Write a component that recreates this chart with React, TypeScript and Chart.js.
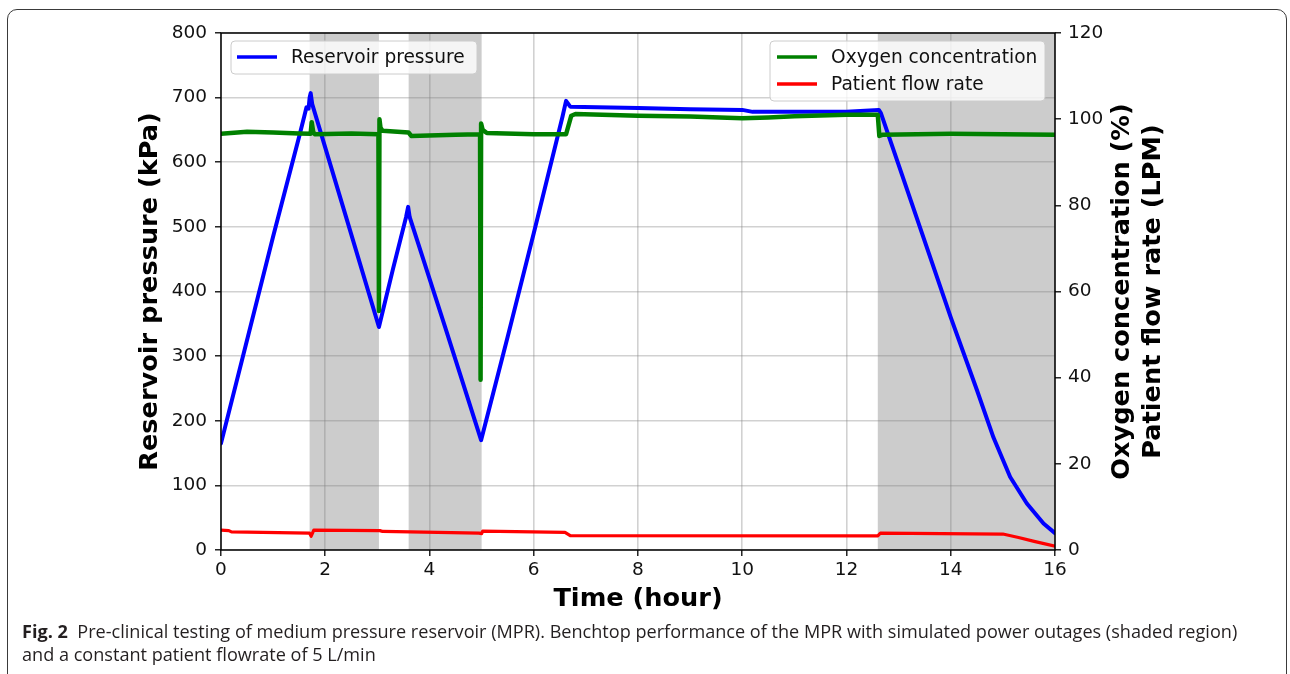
import React, { useEffect, useRef } from "react";
import { Chart, registerables } from "chart.js";

Chart.register(...registerables);

// ---------- data ----------
const pressureTime = [0, 0.5, 1.0, 1.5, 1.6, 1.64, 1.68, 1.7, 1.72, 1.75, 2.4, 3.03, 3.3, 3.55, 3.59, 3.62, 4.3, 4.99, 5.5, 6.0, 6.55, 6.62, 6.7, 8, 9, 10, 10.2, 11, 12, 12.62, 12.66, 13.0, 13.5, 14.0, 14.5, 14.82, 15.14, 15.46, 15.78, 16];
const pressureValue = [165, 325, 485, 640, 672, 685, 683, 700, 707, 690, 515, 345, 435, 515, 531, 515, 345, 170, 330, 490, 670, 695, 686, 684, 682, 681, 678, 678, 678, 681, 676, 596, 478, 360, 248, 174, 113, 72, 41, 26];

const oxygenTime = [0, 0.5, 1.0, 1.5, 1.72, 1.74, 1.77, 1.8, 2.5, 3.02, 3.03, 3.04, 3.06, 3.1, 3.6, 3.65, 4.5, 4.97, 4.98, 4.99, 5.02, 5.1, 6.0, 6.62, 6.72, 6.8, 8, 9, 10, 10.5, 11, 12, 12.6, 12.63, 12.7, 14, 16];
const oxygenValue = [96.6, 97.1, 96.9, 96.7, 96.6, 99.3, 97.0, 96.5, 96.7, 96.5, 55.5, 100, 98, 97.3, 96.9, 96.1, 96.4, 96.5, 39.5, 99, 97.5, 96.8, 96.5, 96.5, 100.8, 101.2, 100.8, 100.6, 100.2, 100.4, 100.7, 101, 101, 96.1, 96.4, 96.6, 96.4];

const flowTime = [0, 0.15, 0.2, 1.7, 1.73, 1.78, 3.05, 3.1, 4.95, 5.0, 5.02, 6.6, 6.7, 12.6, 12.65, 15.0, 15.3, 15.6, 16];
const flowValue = [4.6, 4.5, 4.2, 3.9, 3.2, 4.6, 4.5, 4.3, 3.9, 3.8, 4.4, 4.1, 3.35, 3.3, 3.9, 3.7, 2.9, 2.0, 0.9];

const shadeStart = [1.7, 3.6, 12.6];
const shadeEnd = [3.03, 5.0, 16];

const xMin = 0, xMax = 16, xStep = 2;
const leftMin = 0, leftMax = 800, leftStep = 100;
const rightMin = 0, rightMax = 120, rightStep = 20;

const xTitle = "Time (hour)";
const leftTitle = "Reservoir pressure (kPa)";
const rightTitle = ["Oxygen concentration (%)", "Patient flow rate (LPM)"];
const seriesLabels = ["Reservoir pressure", "Oxygen concentration", "Patient flow rate"];
const seriesColors = ["#0000ff", "#008000", "#ff0000"];

const toPoints = (t: number[], v: number[]) => t.map((x, i) => ({ x, y: v[i] }));

const FONT = "'DejaVu Sans', sans-serif";

const decorPlugin = {
  id: "decor",
  beforeDraw(chart: any) {
    const { ctx, chartArea: a, scales } = chart;
    ctx.save();
    ctx.fillStyle = "#cccccc";
    shadeStart.forEach((s, i) => {
      const x1 = scales.x.getPixelForValue(s);
      const x2 = scales.x.getPixelForValue(shadeEnd[i]);
      ctx.fillRect(x1, a.top, x2 - x1, a.bottom - a.top);
    });
    ctx.restore();
  },
  afterDraw(chart: any) {
    const { ctx, chartArea: a } = chart;
    ctx.save();
    // spines
    ctx.strokeStyle = "#000";
    ctx.lineWidth = 1.5;
    ctx.strokeRect(a.left, a.top, a.right - a.left, a.bottom - a.top);

    // legends
    const drawBox = (x: number, y: number, w: number, h: number) => {
      ctx.beginPath();
      ctx.roundRect(x, y, w, h, 4);
      ctx.fillStyle = "rgba(255,255,255,0.8)";
      ctx.fill();
      ctx.strokeStyle = "#cccccc";
      ctx.lineWidth = 1;
      ctx.stroke();
    };
    const drawEntry = (x: number, y: number, idx: number) => {
      ctx.strokeStyle = seriesColors[idx];
      ctx.lineWidth = 3.5;
      ctx.beginPath();
      ctx.moveTo(x, y);
      ctx.lineTo(x + 40, y);
      ctx.stroke();
      ctx.fillStyle = "#111";
      ctx.font = `18.6px ${FONT}`;
      ctx.textAlign = "left";
      ctx.textBaseline = "middle";
      ctx.fillText(seriesLabels[idx], x + 54, y + 1);
    };
    drawBox(a.left + 10, a.top + 8, 246, 33);
    drawEntry(a.left + 16, a.top + 24, 0);
    const rx = a.right - 285;
    drawBox(rx, a.top + 8, 275, 60);
    drawEntry(rx + 7, a.top + 24, 1);
    drawEntry(rx + 7, a.top + 51, 2);

    // titles
    ctx.fillStyle = "#000";
    ctx.font = `bold 25.6px ${FONT}`;
    ctx.textAlign = "center";
    ctx.textBaseline = "middle";
    const cy = (a.top + a.bottom) / 2;
    ctx.fillText(xTitle, (a.left + a.right) / 2, a.bottom + 49);
    ctx.save();
    ctx.translate(a.left - 71, cy);
    ctx.rotate(-Math.PI / 2);
    ctx.fillText(leftTitle, 0, 0);
    ctx.restore();
    rightTitle.forEach((t, i) => {
      ctx.save();
      ctx.translate(a.right + 67 + i * 31, cy);
      ctx.rotate(-Math.PI / 2);
      ctx.fillText(t, 0, 0);
      ctx.restore();
    });
    ctx.restore();
  },
};

export default function App() {
  const ref = useRef<HTMLCanvasElement | null>(null);

  useEffect(() => {
    if (!ref.current) return;
    const tickFont = { family: FONT, size: 18.5 };
    const grid = {
      color: "rgba(128,128,128,0.36)",
      lineWidth: 1.6,
      tickColor: "#000",
      tickWidth: 1.3,
      tickLength: 6,
    };
    const chart = new Chart(ref.current, {
      type: "line",
      data: {
        datasets: [
          {
            label: seriesLabels[0],
            data: toPoints(pressureTime, pressureValue),
            borderColor: seriesColors[0],
            borderWidth: 4,
            yAxisID: "y",
            order: 2,
          },
          {
            label: seriesLabels[1],
            data: toPoints(oxygenTime, oxygenValue),
            borderColor: seriesColors[1],
            borderWidth: 4.5,
            yAxisID: "y1",
            order: 1,
          },
          {
            label: seriesLabels[2],
            data: toPoints(flowTime, flowValue),
            borderColor: seriesColors[2],
            borderWidth: 3.2,
            yAxisID: "y1",
            order: 1,
          },
        ],
      },
      options: {
        animation: false,
        responsive: false,
        maintainAspectRatio: false,
        elements: { point: { radius: 0 }, line: { tension: 0, borderJoinStyle: "round", borderCapStyle: "round" } },
        layout: { padding: { top: 33, left: 0, right: 0, bottom: 0 } },
        plugins: { legend: { display: false }, tooltip: { enabled: false } },
        scales: {
          x: {
            type: "linear",
            min: xMin,
            max: xMax,
            ticks: { stepSize: xStep, font: tickFont, color: "#111", padding: 3, maxRotation: 0 },
            grid: { ...grid },
            border: { display: false },
            afterFit: (s: any) => { s.height = 124; },
          },
          y: {
            type: "linear",
            position: "left",
            min: leftMin,
            max: leftMax,
            ticks: { stepSize: leftStep, font: tickFont, color: "#111", padding: 8 },
            grid: { ...grid },
            border: { display: false },
            afterFit: (s: any) => { s.width = 221; },
          },
          y1: {
            type: "linear",
            position: "right",
            min: rightMin,
            max: rightMax,
            ticks: { stepSize: rightStep, font: tickFont, color: "#111", padding: 7 },
            grid: { ...grid, drawOnChartArea: false },
            border: { display: false },
            afterFit: (s: any) => { s.width = 235; },
          },
        },
      } as any,
      plugins: [decorPlugin],
    });
    return () => chart.destroy();
  }, []);

  return (
    <div style={{ position: "fixed", left: 0, top: 0, width: 1290, height: 674, overflow: "hidden", background: "#fff" }}>
      <div
        style={{
          position: "absolute",
          left: 7,
          top: 9,
          width: 1280,
          height: 720,
          border: "1px solid #3a3a3a",
          borderRadius: 10,
          boxSizing: "border-box",
        }}
      />
      <canvas ref={ref} width={1290} height={674} style={{ position: "absolute", left: 0, top: 0 }} />
      <div
        style={{
          position: "absolute",
          left: 22,
          top: 620,
          fontFamily: "'Open Sans', sans-serif",
          fontSize: 18.1,
          lineHeight: "23px",
          color: "#231f20",
          whiteSpace: "nowrap",
        }}
      >
        <b>Fig. 2</b>&nbsp;&nbsp;Pre-clinical testing of medium pressure reservoir (MPR). Benchtop performance of the MPR with simulated power outages (shaded region)
        <br />
        and a constant patient flowrate of 5 L/min
      </div>
    </div>
  );
}
